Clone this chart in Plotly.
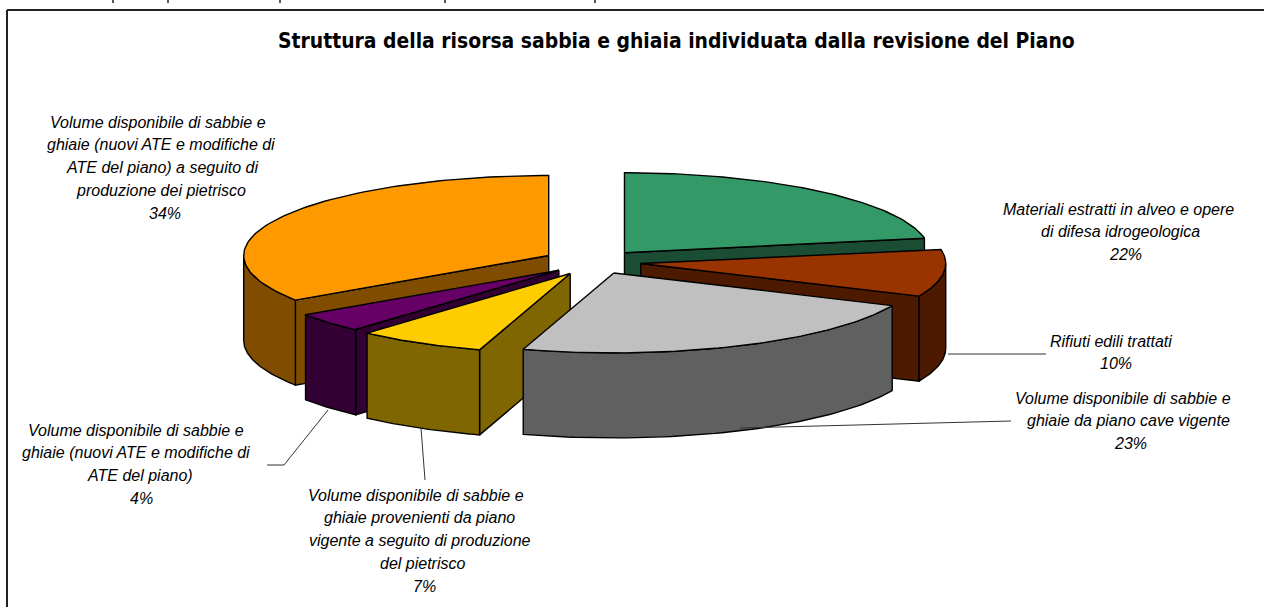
import numpy as np
import plotly.graph_objects as go

# ---- data (clockwise from 12 o'clock) ----
labels = [
    ["Materiali estratti in alveo e opere", "di difesa idrogeologica"],
    ["Rifiuti edili trattati"],
    ["Volume disponibile di sabbie e", "ghiaie da piano cave vigente"],
    ["Volume disponibile di sabbie e", "ghiaie provenienti da piano", "vigente a seguito di produzione", "del pietrisco"],
    ["Volume disponibile di sabbie e", "ghiaie (nuovi ATE e modifiche di", "ATE del piano)"],
    ["Volume disponibile di sabbie e", "ghiaie (nuovi ATE e modifiche di", "ATE del piano) a seguito di", "produzione dei pietrisco"],
]
values = [22.1, 9.6, 23.1, 6.8, 4.0, 34.4]
title = "Struttura della risorsa sabbia e ghiaia individuata dalla revisione del Piano"

# ---- styles ----
top_colors = ["#339966", "#993300", "#C0C0C0", "#FFCC00", "#660066", "#FF9900"]
side_colors = ["#1A4D33", "#4D1A00", "#606060", "#806600", "#330033", "#804D00"]
pulls = [0.151, 0.151, 0.150, 0.165, 0.157, 0.172]
draw_order = [5, 0, 4, 3, 1, 2]
label_y = [209, 341, 398, 495, 430, 122]
label_line_x = [
    [1118, 1120, 1125],
    [1111, 1116],
    [1123, 1128, 1130],
    [416, 419, 420, 422, 424],
    [136, 136, 140, 141],
    [158, 161, 162, 161, 165],
]
LINE_STEP = 22.9
leaders = [
    None,
    [(948, 354), (1046, 354)],
    [(740, 428), (1011, 421)],
    [(421, 428), (425, 480)],
    [(328, 410), (284, 465), (267, 465)],
    None,
]
page_fragments = [113, 168, 280, 445, 595]
CX, CY, RX, RY, DEPTH = 595, 262, 305, 80, 85
FONT = "Liberation Sans"

fig = go.Figure()


def poly(xs, ys, color):
    fig.add_trace(go.Scatter(
        x=xs, y=ys, mode="lines", fill="toself", fillcolor=color,
        line=dict(color="black", width=1.4), hoverinfo="skip", showlegend=False,
    ))


fractions = np.array(values, dtype=float) / sum(values)
ends = np.cumsum(fractions) * 360.0
starts = ends - fractions * 360.0


def rim(ax, ay, deg):
    t = np.radians(deg)
    return ax + RX * np.sin(t), ay - RY * np.cos(t)


for i in draw_order:
    a0, a1 = starts[i], ends[i]
    mid = np.radians((a0 + a1) / 2)
    ax = CX + pulls[i] * RX * np.sin(mid)
    ay = CY - pulls[i] * RY * np.cos(mid)
    # flat radial walls facing the viewer
    for ang, normal in ((a0, a0 - 90), (a1, a1 + 90)):
        if np.cos(np.radians(normal)) < -1e-6:
            ex, ey = rim(ax, ay, ang)
            poly([ax, ex, ex, ax, ax], [ay, ey, ey + DEPTH, ay + DEPTH, ay], side_colors[i])
    # outer curved wall, front half only
    lo, hi = max(a0, 90), min(a1, 270)
    if hi > lo:
        th = np.linspace(lo, hi, 60)
        ox, oy = rim(ax, ay, th)
        poly(np.r_[ox, ox[::-1], ox[0]], np.r_[oy, oy[::-1] + DEPTH, oy[0]], side_colors[i])
    # top face
    th = np.linspace(a0, a1, 90)
    tx, ty = rim(ax, ay, th)
    poly(np.r_[ax, tx, ax], np.r_[ay, ty, ay], top_colors[i])

for seg in leaders:
    if seg:
        fig.add_trace(go.Scatter(
            x=[p[0] for p in seg], y=[p[1] for p in seg], mode="lines",
            line=dict(color="#333333", width=1), hoverinfo="skip", showlegend=False,
        ))

for lab, v, ly, xs in zip(labels, values, label_y, label_line_x):
    for k, line in enumerate(lab + [f"{round(v)}%"]):
        fig.add_annotation(
            x=xs[k], y=ly + k * LINE_STEP, xref="x", yref="y", text=f"<i>{line}</i>", showarrow=False,
            xanchor="center", yanchor="middle", align="center",
            font=dict(family=FONT, size=16, color="black"),
        )

fig.add_annotation(
    x=676, y=41, xref="x", yref="y", text=f"<b>{title}</b>", showarrow=False,
    xanchor="center", yanchor="middle",
    font=dict(family="DejaVu Sans Condensed, DejaVu Sans", size=20.9, color="black"),
)

# chart frame: only the top and left edges fall inside the picture
fig.add_shape(type="line", x0=7, y0=10, x1=1264, y1=10, xref="x", yref="y", line=dict(color="#222222", width=2))
fig.add_shape(type="line", x0=7, y0=10, x1=7, y1=607, xref="x", yref="y", line=dict(color="#222222", width=2))
# descender stubs of the page text cut off above the chart
for fx in page_fragments:
    fig.add_shape(type="line", x0=fx, y0=0, x1=fx, y1=3, xref="x", yref="y", line=dict(color="#222222", width=1.5))

fig.update_layout(
    width=1264, height=607, margin=dict(l=0, r=0, t=0, b=0),
    paper_bgcolor="white", plot_bgcolor="white", showlegend=False,
    xaxis=dict(range=[0, 1264], visible=False, fixedrange=True),
    yaxis=dict(range=[607, 0], visible=False, fixedrange=True),
)
fig.write_html("out.html", config={"displayModeBar": False},
               post_script="document.body.style.margin='0';document.documentElement.style.overflow='hidden';")
